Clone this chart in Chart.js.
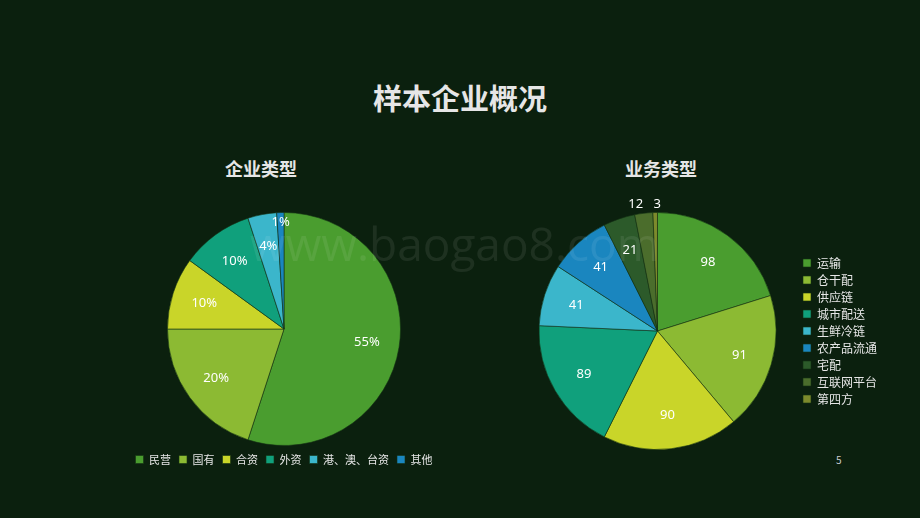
<!DOCTYPE html>
<html><head><meta charset="utf-8">
<script src="https://cdn.jsdelivr.net/npm/chart.js@4"></script>
<style>
body{margin:0;width:920px;height:518px;background:#0b200e;position:relative;overflow:hidden;font-family:"Noto Sans CJK SC","Noto Sans",sans-serif;}
.t{position:absolute;color:#e6e6e6;font-weight:bold;text-align:center}
#c1{position:absolute;left:124px;top:206px}
#c2{position:absolute;left:507px;top:198px}
.wm{position:absolute;left:250px;top:212px;font-size:46px;color:rgba(255,255,255,0.08);font-family:"Open Sans",sans-serif}
.pg{position:absolute;left:836px;top:452px;color:#ccc;font-size:10px}
</style></head><body>
<div class="t" style="left:0;width:920px;top:76px;font-size:29px">样本企业概况</div>
<div class="t" style="left:161px;width:200px;top:155px;font-size:18px">企业类型</div>
<div class="t" style="left:561px;width:200px;top:155px;font-size:18px">业务类型</div>
<canvas id="c1" width="320" height="269"></canvas>
<canvas id="c2" width="380" height="252"></canvas>
<div class="wm">www.baogao8.com</div>
<div class="pg">5</div>
<script>
// 企业类型
const typeLabels = ['民营', '国有', '合资', '外资', '港、澳、台资', '其他'];
const typeShare = [55, 20, 10, 10, 4, 1];
const typeColors = ['#4a9d2f', '#8cba33', '#c9d529', '#10a07c', '#3bb6cb', '#1a86bf'];

// 业务类型
const bizLabels = ['运输', '仓干配', '供应链', '城市配送', '生鲜冷链', '农产品流通', '宅配', '互联网平台', '第四方'];
const bizCount = [98, 91, 90, 89, 41, 41, 21, 12, 3];
const bizColors = ['#4a9d2f', '#8cba33', '#c9d529', '#10a07c', '#3bb6cb', '#1a86bf', '#2c5a2a', '#4b6d2c', '#7d8a2c'];

// draw slice labels inside the pie, small slices outside
const sliceLabels = {
  id: 'sliceLabels',
  afterDatasetsDraw(chart, args, opts) {
    const ctx = chart.ctx;
    const ds = chart.data.datasets[0];
    ctx.save();
    ctx.fillStyle = '#ffffff';
    ctx.font = '13px "Noto Sans", sans-serif';
    ctx.textAlign = 'center';
    ctx.textBaseline = 'middle';
    chart.getDatasetMeta(0).data.forEach((arc, i) => {
      const mid = (arc.startAngle + arc.endAngle) / 2;
      const small = (arc.endAngle - arc.startAngle) < 0.2;
      let r = arc.outerRadius * (small ? opts.outer : 0.72);
      let x = arc.x + Math.cos(mid) * r;
      let y = arc.y + Math.sin(mid) * r;
      if (small && opts.lift) { y = arc.y - arc.outerRadius - 8; x = arc.x + Math.cos(mid) * arc.outerRadius * 1.0 - (i === ds.data.length - 1 ? -2 : 8); }
      ctx.fillText(opts.fmt(ds.data[i]), x, y);
    });
    ctx.restore();
  }
};

const legendLabels = { color: '#e6e6e6', boxWidth: 8, boxHeight: 8, font: { size: 11, family: '"Noto Sans CJK SC", sans-serif' } };

new Chart(document.getElementById('c1'), {
  type: 'pie',
  data: { labels: typeLabels, datasets: [{ data: typeShare, backgroundColor: typeColors, borderColor: 'rgba(20,50,20,0.6)', borderWidth: 1 }] },
  options: {
    responsive: false, animation: false,
    layout: { padding: { top: 6, bottom: 0 } },
    plugins: {
      legend: { position: 'bottom', labels: Object.assign({ padding: 8 }, legendLabels) },
      tooltip: { enabled: false },
      sliceLabels: { outer: 0.92, lift: false, fmt: v => v + '%' }
    }
  },
  plugins: [sliceLabels]
});

new Chart(document.getElementById('c2'), {
  type: 'pie',
  data: { labels: bizLabels, datasets: [{ data: bizCount, backgroundColor: bizColors, borderColor: 'rgba(20,50,20,0.6)', borderWidth: 1 }] },
  options: {
    responsive: false, animation: false,
    layout: { padding: { top: 14, bottom: 0, left: 10 } },
    plugins: {
      legend: { position: 'right', labels: Object.assign({}, legendLabels, { padding: 5, font: { size: 12, family: '"Noto Sans CJK SC", sans-serif' } }) },
      tooltip: { enabled: false },
      sliceLabels: { outer: 1, lift: true, fmt: v => String(v) }
    }
  },
  plugins: [sliceLabels]
});
</script>
</body></html>
